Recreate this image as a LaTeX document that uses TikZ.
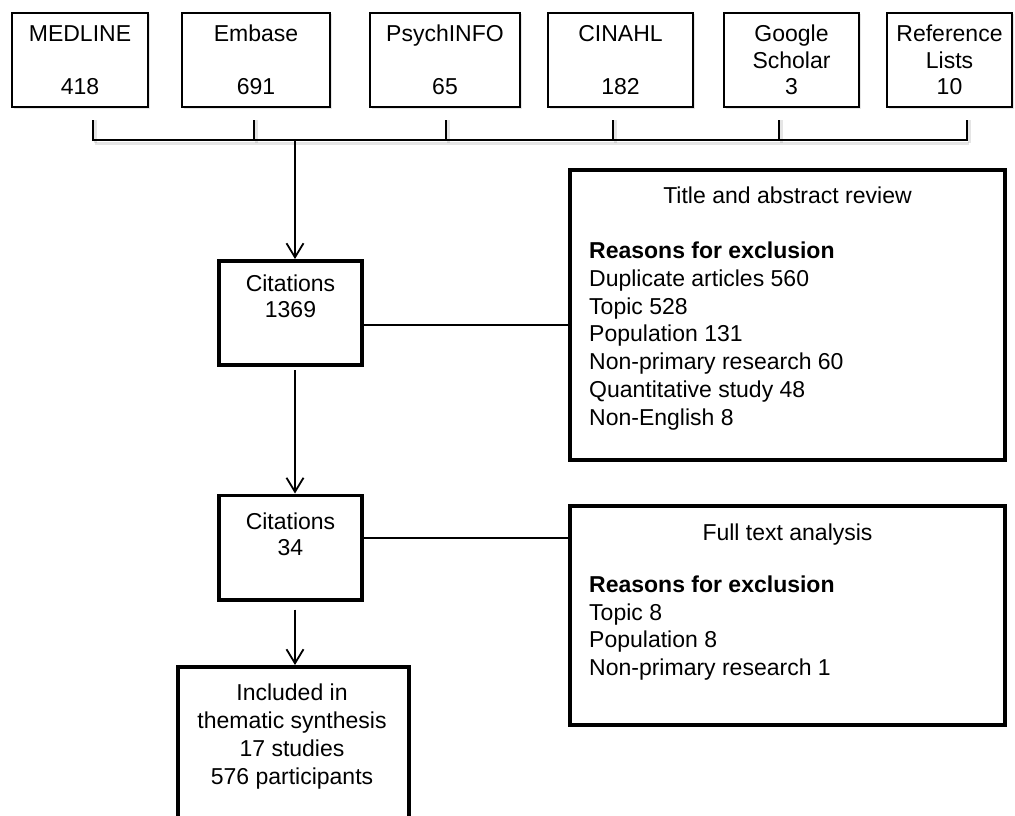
\documentclass[tikz,border=0pt]{standalone}
\usepackage{fontspec}
\setmainfont{Liberation Sans}
\usetikzlibrary{arrows.meta,shadows}

\begin{document}
\begin{tikzpicture}[x=1pt, y=-1pt,
  every node/.style={font=\fontsize{23}{27.7}\selectfont, inner sep=0pt},
  source/.style={draw=black, fill=white, line width=1.8pt, align=center, minimum height=94pt,
    font=\fontsize{23}{26.5}\selectfont,
    drop shadow={shadow xshift=1.5pt, shadow yshift=-1.5pt, opacity=0.2}},
  stage/.style={draw=black, line width=3.6pt, minimum width=143.4pt, minimum height=104.4pt},
  panel/.style={draw=black, line width=3.6pt, minimum width=435.4pt},
  link/.style={line width=1.8pt},
  barshadow/.style={line width=3pt, black, opacity=0.1},
  arrow/.style={line width=1.8pt, -{Straight Barb[length=14pt, width=17pt]}}]

\useasboundingbox (0,0) rectangle (1015,816);
\clip (0,0) rectangle (1015,816);

% Databases
\node[source, minimum width=136pt] (med) at (80,60) {MEDLINE\\~\\418};
\node[source, minimum width=148pt] (emb) at (256,60) {Embase\\~\\691};
\node[source, minimum width=150pt] (psy) at (445,60) {PsychINFO\\~\\65};
\node[source, minimum width=145pt] (cin) at (620.5,60) {CINAHL\\~\\182};
\node[source, minimum width=135pt] (goo) at (791.5,60) {Google\\Scholar\\3};
\node[source, minimum width=125pt] (ref) at (949.5,60) {Reference\\Lists\\10};

% Bracket
\foreach \src/\x in {med/93, emb/254, psy/446, cin/613, goo/779, ref/967} {
  \coordinate (\src-tick) at (\x,120);
  \coordinate (\src-bar) at (\x,140);
  \draw[barshadow] ([xshift=2pt]\src-tick) -- ([xshift=2pt,yshift=-3pt]\src-bar);
}
\draw[barshadow] ([xshift=2pt,yshift=-3pt]med-bar) -- ([xshift=2pt,yshift=-3pt]ref-bar);
\draw[link] (med-tick) -- (med-bar) -- (ref-bar) -- (ref-tick);
\foreach \src in {emb, psy, cin, goo}
  \draw[link] (\src-tick) -- (\src-bar);
\coordinate (merge) at (295,140);

% Screening stages
\node[stage] (citA) at (290.5,313) {};
\node[anchor=base, align=center, font=\fontsize{23}{26}\selectfont] (citAtext) at (290.5,317) {Citations\\1369};
\node[stage] (citB) at (290.5,547.5) {};
\node[anchor=base, align=center, font=\fontsize{23}{26}\selectfont] (citBtext) at (290.5,555) {Citations\\34};
\node[stage, minimum width=231.4pt, minimum height=180pt] (incl) at (293.5,756.8) {};
\node[anchor=base, align=center] (incltext) at (292,784) {Included in\\thematic synthesis\\17 studies\\576 participants};

% Title and abstract review
\node[panel, minimum height=290.4pt] (tar) at (787.5,315) {};
\node[anchor=base] (tarhead) at (787.5,203) {Title and abstract review};
\node[anchor=base west, align=left] (tarlist) at (589,425) {\textbf{Reasons for exclusion}\\Duplicate articles 560\\Topic 528\\Population 131\\Non-primary research 60\\Quantitative study 48\\Non-English 8};

% Full text analysis
\node[panel, minimum height=219.4pt] (fta) at (787.5,615.5) {};
\node[anchor=base] (ftahead) at (787.5,540) {Full text analysis};
\node[anchor=base west, align=left, font=\fontsize{23}{27.4}\selectfont] (ftalist) at (589,675) {\textbf{Reasons for exclusion}\\Topic 8\\Population 8\\Non-primary research 1};

% Connections
\draw[arrow] (merge) -- (merge |- citA.north);
\draw[arrow] ([yshift=-3pt]merge |- citA.south) -- (merge |- citB.north);
\draw[arrow] ([yshift=-8pt]merge |- citB.south) -- (merge |- incl.north);
\draw[link] ([yshift=-12pt]citA.east) -- ([yshift=-12pt]citA.east -| tar.west);
\draw[link] ([yshift=9.5pt]citB.east) -- ([yshift=9.5pt]citB.east -| fta.west);

\end{tikzpicture}
\end{document}
